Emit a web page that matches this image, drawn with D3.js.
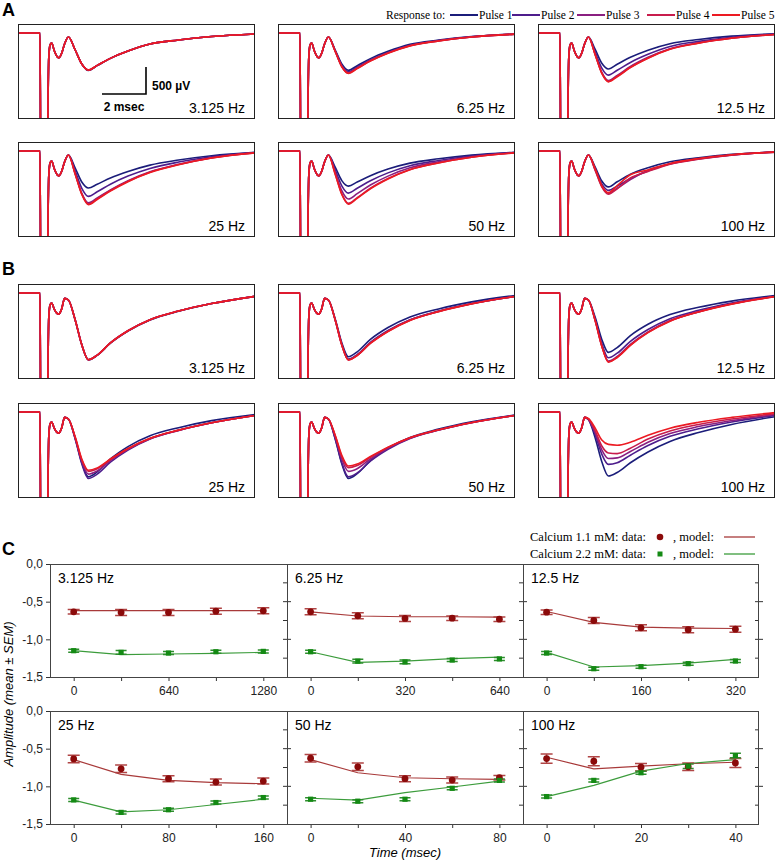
<!DOCTYPE html>
<html><head><meta charset="utf-8">
<script src="https://cdn.jsdelivr.net/npm/d3@7"></script>
<style>body{margin:0;background:#fff}svg{display:block}</style>
</head><body>
<svg id="fig" width="775" height="863"></svg>
<script>
// ---------------- DATA ----------------
const pulseNames = ["Pulse 1","Pulse 2","Pulse 3","Pulse 4","Pulse 5"];
const pulseColors = ["#1b1d7a","#4d1d8c","#8a1f80","#c81c4c","#ec1a22"];
const freqLabels = ["3.125 Hz","6.25 Hz","12.5 Hz","25 Hz","50 Hz","100 Hz"];

// trace sample times (ms) - stimulus artifact and early components
const earlyTimes = [0, 1.0, 1.04, 1.33, 1.36, 1.40, 1.46, 1.53, 1.65, 1.78, 1.86, 1.98, 2.12];
const earlyA = [0, 0, -3000, -3000, -1500, -450, -220, -185, -330, -440, -460, -380, -200];
const earlyB = [0, 0, -3000, -3000, -1500, -450, -220, -185, -300, -380, -390, -300, -100];
// late (EPSP) sample times, ms
const lateTimes = [2.29, 2.6, 2.9, 3.2, 3.6, 4.2, 5.0, 6.0, 7.3, 8.8, 10.8];

// A: Calcium 1.1 mM traces (µV), per frequency, pulses 1..5
const tracesA = [
  [[-75,-315,-575,-695,-605,-470,-335,-205,-130,-65,-18],
   [-75,-315,-575,-688,-600,-470,-335,-205,-130,-65,-18],
   [-75,-315,-575,-686,-600,-470,-335,-205,-130,-65,-18],
   [-75,-315,-575,-685,-600,-470,-335,-205,-130,-65,-18],
   [-75,-315,-575,-685,-600,-470,-335,-205,-130,-65,-18]],
  [[-75,-315,-575,-690,-605,-475,-340,-210,-132,-66,-18],
   [-75,-328,-600,-720,-632,-500,-360,-225,-140,-70,-20],
   [-75,-335,-615,-735,-645,-510,-368,-232,-144,-72,-20],
   [-75,-338,-620,-742,-652,-515,-372,-235,-146,-73,-21],
   [-75,-340,-625,-748,-658,-520,-375,-238,-148,-74,-21]],
  [[-75,-305,-560,-666,-580,-450,-318,-198,-120,-58,-15],
   [-75,-355,-650,-780,-690,-545,-395,-250,-155,-78,-22],
   [-75,-395,-730,-880,-785,-620,-450,-290,-180,-92,-25],
   [-75,-400,-740,-895,-800,-635,-462,-298,-185,-95,-26],
   [-75,-405,-748,-905,-810,-642,-468,-302,-188,-97,-27]],
  [[-75,-315,-575,-685,-615,-500,-380,-262,-168,-88,-25],
   [-75,-370,-690,-840,-755,-615,-465,-325,-205,-106,-28],
   [-75,-420,-785,-960,-870,-720,-550,-385,-245,-125,-32],
   [-75,-425,-795,-980,-885,-732,-560,-392,-250,-128,-33],
   [-75,-430,-805,-995,-898,-742,-568,-400,-255,-130,-34]],
  [[-75,-300,-548,-650,-575,-458,-335,-225,-145,-76,-22],
   [-75,-350,-645,-780,-690,-550,-405,-272,-175,-92,-26],
   [-75,-395,-735,-890,-790,-630,-465,-312,-200,-105,-30],
   [-75,-425,-795,-970,-865,-690,-510,-342,-218,-115,-32],
   [-75,-430,-805,-985,-878,-700,-518,-348,-222,-117,-33]],
  [[-75,-300,-555,-665,-570,-430,-310,-200,-125,-62,-18],
   [-75,-330,-610,-730,-650,-510,-370,-235,-145,-72,-20],
   [-75,-350,-650,-780,-690,-530,-355,-240,-148,-74,-20],
   [-75,-360,-665,-800,-700,-500,-380,-245,-150,-76,-21],
   [-75,-330,-640,-770,-640,-440,-350,-230,-140,-70,-20]]
];
// B: Calcium 2.2 mM traces (µV)
const tracesB = [
  [[-130,-500,-960,-1240,-1155,-930,-705,-500,-338,-196,-60],
   [-130,-500,-960,-1235,-1150,-925,-700,-495,-335,-195,-60],
   [-130,-500,-960,-1235,-1150,-925,-700,-495,-335,-195,-60],
   [-130,-500,-960,-1235,-1150,-925,-700,-495,-335,-195,-60],
   [-130,-500,-960,-1235,-1150,-925,-700,-495,-335,-195,-60]],
  [[-130,-480,-920,-1180,-1090,-860,-640,-445,-295,-165,-45],
   [-130,-495,-950,-1225,-1140,-915,-695,-495,-335,-195,-60],
   [-130,-500,-960,-1235,-1150,-925,-705,-500,-340,-198,-62],
   [-130,-500,-962,-1238,-1155,-930,-710,-505,-343,-200,-63],
   [-130,-500,-965,-1240,-1158,-935,-712,-508,-345,-202,-64]],
  [[-130,-450,-860,-1100,-1010,-790,-580,-400,-265,-150,-45],
   [-130,-490,-935,-1200,-1115,-895,-675,-475,-320,-185,-58],
   [-130,-510,-975,-1260,-1175,-950,-720,-510,-345,-200,-62],
   [-130,-512,-980,-1275,-1190,-965,-730,-518,-350,-204,-64],
   [-130,-515,-985,-1280,-1195,-970,-735,-522,-352,-206,-65]],
  [[-130,-490,-940,-1200,-1110,-870,-640,-440,-290,-160,-45],
   [-130,-500,-960,-1230,-1150,-930,-705,-500,-340,-200,-62],
   [-130,-480,-910,-1150,-1090,-900,-690,-495,-340,-200,-62],
   [-130,-470,-890,-1100,-1050,-880,-680,-490,-338,-200,-62],
   [-130,-460,-870,-1080,-1035,-870,-675,-488,-336,-198,-62]],
  [[-130,-500,-960,-1230,-1140,-900,-670,-470,-315,-180,-55],
   [-130,-490,-940,-1200,-1130,-910,-690,-490,-335,-195,-60],
   [-130,-460,-870,-1100,-1050,-870,-670,-485,-335,-198,-62],
   [-130,-440,-830,-1030,-990,-840,-655,-478,-332,-198,-62],
   [-130,-430,-800,-1000,-965,-825,-650,-475,-330,-196,-62]],
  [[-140,-480,-920,-1185,-1120,-940,-740,-545,-380,-230,-85],
   [-140,-420,-780,-970,-940,-800,-620,-450,-310,-185,-60],
   [-140,-380,-700,-860,-850,-730,-560,-400,-270,-160,-45],
   [-130,-350,-630,-760,-770,-670,-500,-350,-230,-130,-30],
   [-120,-300,-520,-600,-615,-560,-430,-300,-190,-100,-10]]
];

// C: normalized amplitudes
const cMaxTime = [1280, 640, 320, 160, 80, 40];
const cTickLabels = [["0","640","1280"],["0","320","640"],["0","160","320"],["0","80","160"],["0","40","80"],["0","20","40"]];
const yTickLabels = ["0,0","-0,5","-1,0","-1,5"];
const data11 = [
  [-0.635,-0.644,-0.644,-0.626,-0.622],
  [-0.635,-0.688,-0.723,-0.719,-0.732],
  [-0.640,-0.750,-0.847,-0.873,-0.865],
  [-0.636,-0.768,-0.899,-0.943,-0.930],
  [-0.627,-0.741,-0.899,-0.917,-0.886],
  [-0.632,-0.667,-0.746,-0.740,-0.689]
];
const sem11 = [
  [0.03,0.04,0.04,0.04,0.04],
  [0.04,0.04,0.04,0.03,0.03],
  [0.03,0.04,0.04,0.04,0.04],
  [0.05,0.05,0.04,0.04,0.04],
  [0.05,0.05,0.04,0.04,0.03],
  [0.06,0.06,0.05,0.05,0.06]
];
const model11 = [
  [-0.620,-0.620,-0.620,-0.620,-0.620],
  [-0.635,-0.690,-0.700,-0.700,-0.705],
  [-0.630,-0.776,-0.838,-0.851,-0.856],
  [-0.645,-0.842,-0.921,-0.952,-0.965],
  [-0.645,-0.820,-0.886,-0.899,-0.908],
  [-0.614,-0.768,-0.732,-0.700,-0.680]
];
const data22 = [
  [-1.151,-1.173,-1.182,-1.165,-1.160],
  [-1.165,-1.290,-1.300,-1.275,-1.260],
  [-1.182,-1.390,-1.363,-1.323,-1.288],
  [-1.180,-1.346,-1.311,-1.215,-1.149],
  [-1.171,-1.197,-1.171,-1.026,-0.921],
  [-1.136,-0.921,-0.820,-0.732,-0.592]
];
const sem22 = [
  [0.02,0.025,0.02,0.02,0.02],
  [0.02,0.025,0.025,0.02,0.02],
  [0.02,0.02,0.02,0.02,0.02],
  [0.02,0.02,0.02,0.02,0.02],
  [0.02,0.02,0.02,0.02,0.02],
  [0.02,0.02,0.02,0.03,0.03]
];
const model22 = [
  [-1.151,-1.204,-1.195,-1.186,-1.173],
  [-1.165,-1.305,-1.290,-1.257,-1.235],
  [-1.173,-1.367,-1.350,-1.315,-1.266],
  [-1.184,-1.338,-1.311,-1.241,-1.171],
  [-1.158,-1.184,-1.083,-1.009,-0.930],
  [-1.136,-0.987,-0.798,-0.697,-0.645]
];

// ---------------- DRAWING ----------------
const svg = d3.select("#fig");
const SANS = "'Liberation Sans', Arial, sans-serif";
const SERIF = "'Liberation Serif', 'Times New Roman', serif";
const uvPerPx = 500/27, msPerPx = 2/44;

svg.append("text").attr("x",2).attr("y",16).text("A").attr("font-family",SANS).attr("font-weight","bold").attr("font-size",18);
svg.append("text").attr("x",2).attr("y",275).text("B").attr("font-family",SANS).attr("font-weight","bold").attr("font-size",18);
svg.append("text").attr("x",2).attr("y",555).text("C").attr("font-family",SANS).attr("font-weight","bold").attr("font-size",18);

// Legend A
const leg = svg.append("g").attr("font-family",SERIF).attr("font-size",11.5);
leg.append("text").attr("x",386).attr("y",19).text("Response to:");
const legLineX = [450, 512, 577, 647, 712];
pulseNames.forEach((n,i)=>{
  leg.append("line").attr("x1",legLineX[i]).attr("x2",legLineX[i]+28).attr("y1",15).attr("y2",15)
     .attr("stroke",pulseColors[i]).attr("stroke-width",2);
  leg.append("text").attr("x",legLineX[i]+29).attr("y",19).text(n);
});

const colX = [18, 278, 538], boxW = 237;
function drawTraceBox(x0, y0, h, early, traces, label, scalebar, id) {
  const xs = d3.scaleLinear().domain([0, boxW*msPerPx]).range([x0, x0+boxW]);
  const ys = d3.scaleLinear().domain([-(h-9)*uvPerPx, 9*uvPerPx]).range([y0+h, y0]);
  svg.append("clipPath").attr("id",id).append("rect").attr("x",x0).attr("y",y0).attr("width",boxW).attr("height",h);
  const g = svg.append("g").attr("clip-path",`url(#${id})`);
  const line = d3.line().x(d=>xs(d[0])).y(d=>ys(d[1])).curve(d3.curveMonotoneX);
  traces.forEach((vals,i)=>{
    const pts = earlyTimes.map((t,j)=>[t,early[j]]).concat(lateTimes.map((t,j)=>[t,vals[j]]));
    g.append("path").attr("d",line(pts)).attr("fill","none").attr("stroke",pulseColors[i]).attr("stroke-width",1.6);
  });
  svg.append("rect").attr("x",x0+0.5).attr("y",y0+0.5).attr("width",boxW-1).attr("height",h-1)
     .attr("fill","none").attr("stroke","#222").attr("stroke-width",1);
  svg.append("text").attr("x",x0+boxW-10).attr("y",y0+h-6).attr("text-anchor","end")
     .attr("font-family",SANS).attr("font-size",14).text(label);
  if (scalebar) {
    const bx = x0+128, by = y0+70;
    svg.append("path").attr("d",`M${bx-44},${by}H${bx}V${by-27}`).attr("fill","none").attr("stroke","#000").attr("stroke-width",1.6);
    svg.append("text").attr("x",bx+6).attr("y",by-4).attr("font-family",SANS).attr("font-weight","bold").attr("font-size",12).text("500 µV");
    svg.append("text").attr("x",bx-22).attr("y",by+17).attr("text-anchor","middle").attr("font-family",SANS).attr("font-weight","bold").attr("font-size",12).text("2 msec");
  }
}
const rowsA = [24, 142], rowsB = [284, 403];
for (let k=0;k<6;k++){
  const r = Math.floor(k/3), c = k%3;
  drawTraceBox(colX[c], rowsA[r], 95, earlyA, tracesA[k], freqLabels[k], k===0, "ca"+k);
  drawTraceBox(colX[c], rowsB[r], 95, earlyB, tracesB[k], freqLabels[k], false, "cb"+k);
}

// Legend C
const lc = svg.append("g").attr("font-family",SERIF).attr("font-size",12.5);
lc.append("text").attr("x",530).attr("y",541).text("Calcium 1.1 mM: data:");
lc.append("circle").attr("cx",660).attr("cy",537).attr("r",3.3).attr("fill","#8b0a0a");
lc.append("text").attr("x",673).attr("y",541).text(", model:");
lc.append("line").attr("x1",724).attr("x2",755).attr("y1",537).attr("y2",537).attr("stroke","#a83a3a").attr("stroke-width",1.3);
lc.append("text").attr("x",530).attr("y",558).text("Calcium 2.2 mM: data:");
lc.append("rect").attr("x",657.5).attr("y",551.5).attr("width",5).attr("height",5).attr("fill","#148a14");
lc.append("text").attr("x",673).attr("y",558).text(", model:");
lc.append("line").attr("x1",724).attr("x2",755).attr("y1",554).attr("y2",554).attr("stroke","#3c9c3c").attr("stroke-width",1.3);

// Panel C
const cColX = [50, 287, 523, 759];
const cRowY = [[564,677],[711,824]];
for (let r=0;r<2;r++){
  const [top,bot] = cRowY[r];
  const ys = d3.scaleLinear().domain([-1.5,0]).range([bot,top]);
  const ya = d3.axisLeft(ys).tickValues([0,-0.5,-1,-1.5]).tickSize(4).tickPadding(3)
     .tickFormat((d,i)=>yTickLabels[i]);
  const gy = svg.append("g").attr("transform",`translate(${cColX[0]},0)`).call(ya);
  gy.select(".domain").remove();
  gy.selectAll("text").attr("font-family",SANS).attr("font-size",12).attr("fill","#222");
  gy.selectAll("line").attr("stroke","#333");
  for (let c=0;c<3;c++){
    const k = r*3+c, T = cMaxTime[k];
    const x0 = cColX[c], x1 = cColX[c+1];
    const xs = d3.scaleLinear().domain([-T/8, T*9/8]).range([x0,x1]);
    const times = [0,T/4,T/2,3*T/4,T];
    const xa = d3.axisBottom(xs).tickValues(times).tickSize(4).tickPadding(5)
       .tickFormat((d,i)=> i%2===0 ? cTickLabels[k][i/2] : "");
    const gx = svg.append("g").attr("transform",`translate(0,${bot})`).call(xa);
    gx.select(".domain").remove();
    gx.selectAll("text").attr("font-family",SANS).attr("font-size",12).attr("fill","#222");
    gx.selectAll("line").attr("stroke","#333");
    [-0.25,-0.5,-0.75,-1.0,-1.25].forEach((v,i)=>{
      const major = (i%2===1);
      svg.append("line").attr("x1",x1-4).attr("x2",x1+(major?4:0))
        .attr("y1",ys(v)).attr("y2",ys(v)).attr("stroke","#333");
    });
    const mline = d3.line().x((d,i)=>xs(times[i])).y(d=>ys(d));
    svg.append("path").attr("d",mline(model11[k])).attr("fill","none").attr("stroke","#a83a3a").attr("stroke-width",1.2);
    svg.append("path").attr("d",mline(model22[k])).attr("fill","none").attr("stroke","#3c9c3c").attr("stroke-width",1.2);
    const drawErr = (vals, sems, color, hw) => {
      vals.forEach((v,i)=>{
        const x = xs(times[i]);
        const yT = ys(v+sems[i]), yB = ys(v-sems[i]);
        svg.append("path").attr("d",`M${x},${yT}V${yB}M${x-hw},${yT}H${x+hw}M${x-hw},${yB}H${x+hw}`)
          .attr("fill","none").attr("stroke",color).attr("stroke-width",1.5);
      });
    };
    drawErr(data11[k], sem11[k], "#b04545", 6);
    drawErr(data22[k], sem22[k], "#2e8e2e", 5.5);
    data11[k].forEach((v,i)=>{
      svg.append("circle").attr("cx",xs(times[i])).attr("cy",ys(v)).attr("r",3.4).attr("fill","#8b0a0a");
    });
    data22[k].forEach((v,i)=>{
      svg.append("rect").attr("x",xs(times[i])-2.6).attr("y",ys(v)-2.6).attr("width",5.2).attr("height",5.2).attr("fill","#148a14");
    });
    svg.append("text").attr("x",x0+8).attr("y",top+19).attr("font-family",SANS).attr("font-size",14).text(freqLabels[k]);
  }
  svg.append("rect").attr("x",cColX[0]+0.5).attr("y",top+0.5).attr("width",cColX[3]-cColX[0]-1).attr("height",bot-top)
    .attr("fill","none").attr("stroke","#444");
  [1,2].forEach(c=> svg.append("line").attr("x1",cColX[c]+0.5).attr("x2",cColX[c]+0.5).attr("y1",top).attr("y2",bot).attr("stroke","#444"));
}
svg.append("text").attr("transform",`translate(13,${(564+824)/2}) rotate(-90)`).attr("text-anchor","middle")
  .attr("font-family",SANS).attr("font-style","italic").attr("font-size",13).text("Amplitude (mean ± SEM)");
svg.append("text").attr("x",405).attr("y",857).attr("text-anchor","middle")
  .attr("font-family",SANS).attr("font-style","italic").attr("font-size",13).text("Time (msec)");
</script>
</body></html>
